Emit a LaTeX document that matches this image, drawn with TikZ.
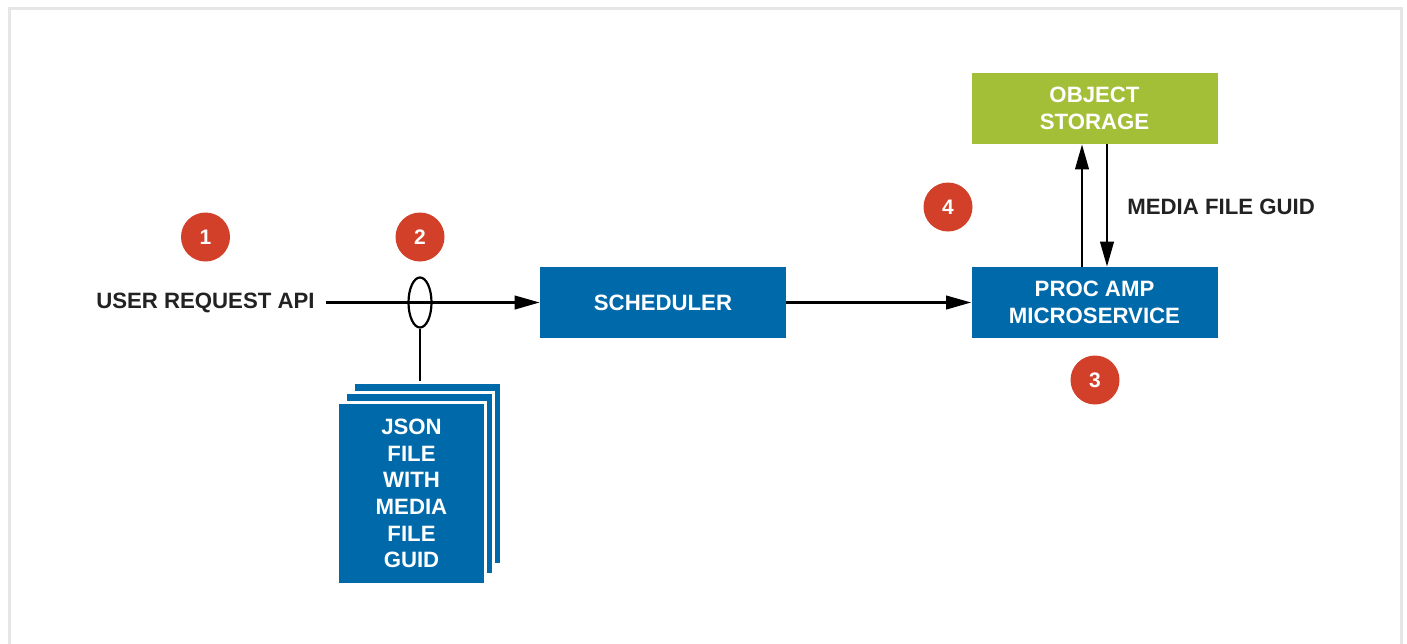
\documentclass[tikz,border=0pt]{standalone}
\usepackage{fontspec}
\setmainfont{Liberation Sans}
\usetikzlibrary{arrows.meta}
\usetikzlibrary{calc}
\usetikzlibrary{shapes.geometric}
\usepackage{xcolor}

\definecolor{boxblue}{HTML}{0069AA}
\definecolor{boxgreen}{HTML}{A3BE37}
\definecolor{stepred}{HTML}{D3402A}
\definecolor{labelgray}{HTML}{222222}
\definecolor{framegray}{HTML}{E6E6E6}

\tikzset{
  box/.style={rectangle, fill=boxblue, text=white, align=center,
    minimum width=123pt, minimum height=35.5pt, inner sep=0pt},
  page/.style={rectangle, fill=boxblue, draw=white, line width=1.2pt,
    minimum width=74pt, minimum height=91pt, inner sep=0pt},
  badge/.style={circle, fill=stepred, text=white, minimum size=24.5pt,
    inner sep=0pt, font=\bfseries\fontsize{10.5}{12}\selectfont},
  flow/.style={line width=1.1pt, -{Triangle[length=12.5pt,width=6.8pt]}},
}

\begin{document}
\begin{tikzpicture}[x=0.5pt,y=-0.5pt,font=\bfseries\fontsize{11.1}{13.3}\selectfont]
      \useasboundingbox (0,0) rectangle (1407,643);

      % Frame
      \draw[framegray, line width=1.5pt] (9,8) rectangle (1401,700);

      % Boxes
      \node[box] (sched) at (663,302.5) {SCHEDULER};
      \node[box] (proc) at (1094.5,302.5) {PROC AMP\\MICROSERVICE};
      \node[box, fill=boxgreen] (store) at (1094.5,108.5) {OBJECT\\STORAGE};

      % Stack of JSON files
      \node[page] (back) at (427.5,473.5) {};
      \node[page] (mid) at (419.5,483.5) {};
      \node[page, align=center, text=white] (front) at (411.5,493.5)
        {JSON\\FILE\\WITH\\MEDIA\\FILE\\GUID};

      % Labels
      \node[anchor=east, inner sep=5.5pt, text=labelgray] (user) at (326,302.5) {USER REQUEST API};
      \node[anchor=west, inner sep=0pt, text=labelgray] (guid) at (1127,207) {MEDIA FILE GUID};

      % Ellipse on the request line
      \node[ellipse, draw, line width=1.1pt, minimum width=11.5pt, minimum height=25pt,
        inner sep=0pt] (bundle) at (420,302.5) {};

      % Connectors
      \draw[flow] (user.east) -- (sched.west);
      \draw[line width=1.1pt] (bundle.south) -- (bundle.south |- back.north);
      \draw[flow] (sched.east) -- (proc.west);
      \draw[flow] ([xshift=-6.25pt]proc.north) -- ([xshift=-6.25pt]store.south);
      \draw[flow] ([xshift=6.25pt]store.south) -- ([xshift=6.25pt]proc.north);

      % Steps
      \node[badge] (s1) at (205.5,237) {1};
      \node[badge] (s2) at (420,237) {2};
      \node[badge] (s3) at (1095,380) {3};
      \node[badge] (s4) at (948,207) {4};
\end{tikzpicture}
\end{document}
